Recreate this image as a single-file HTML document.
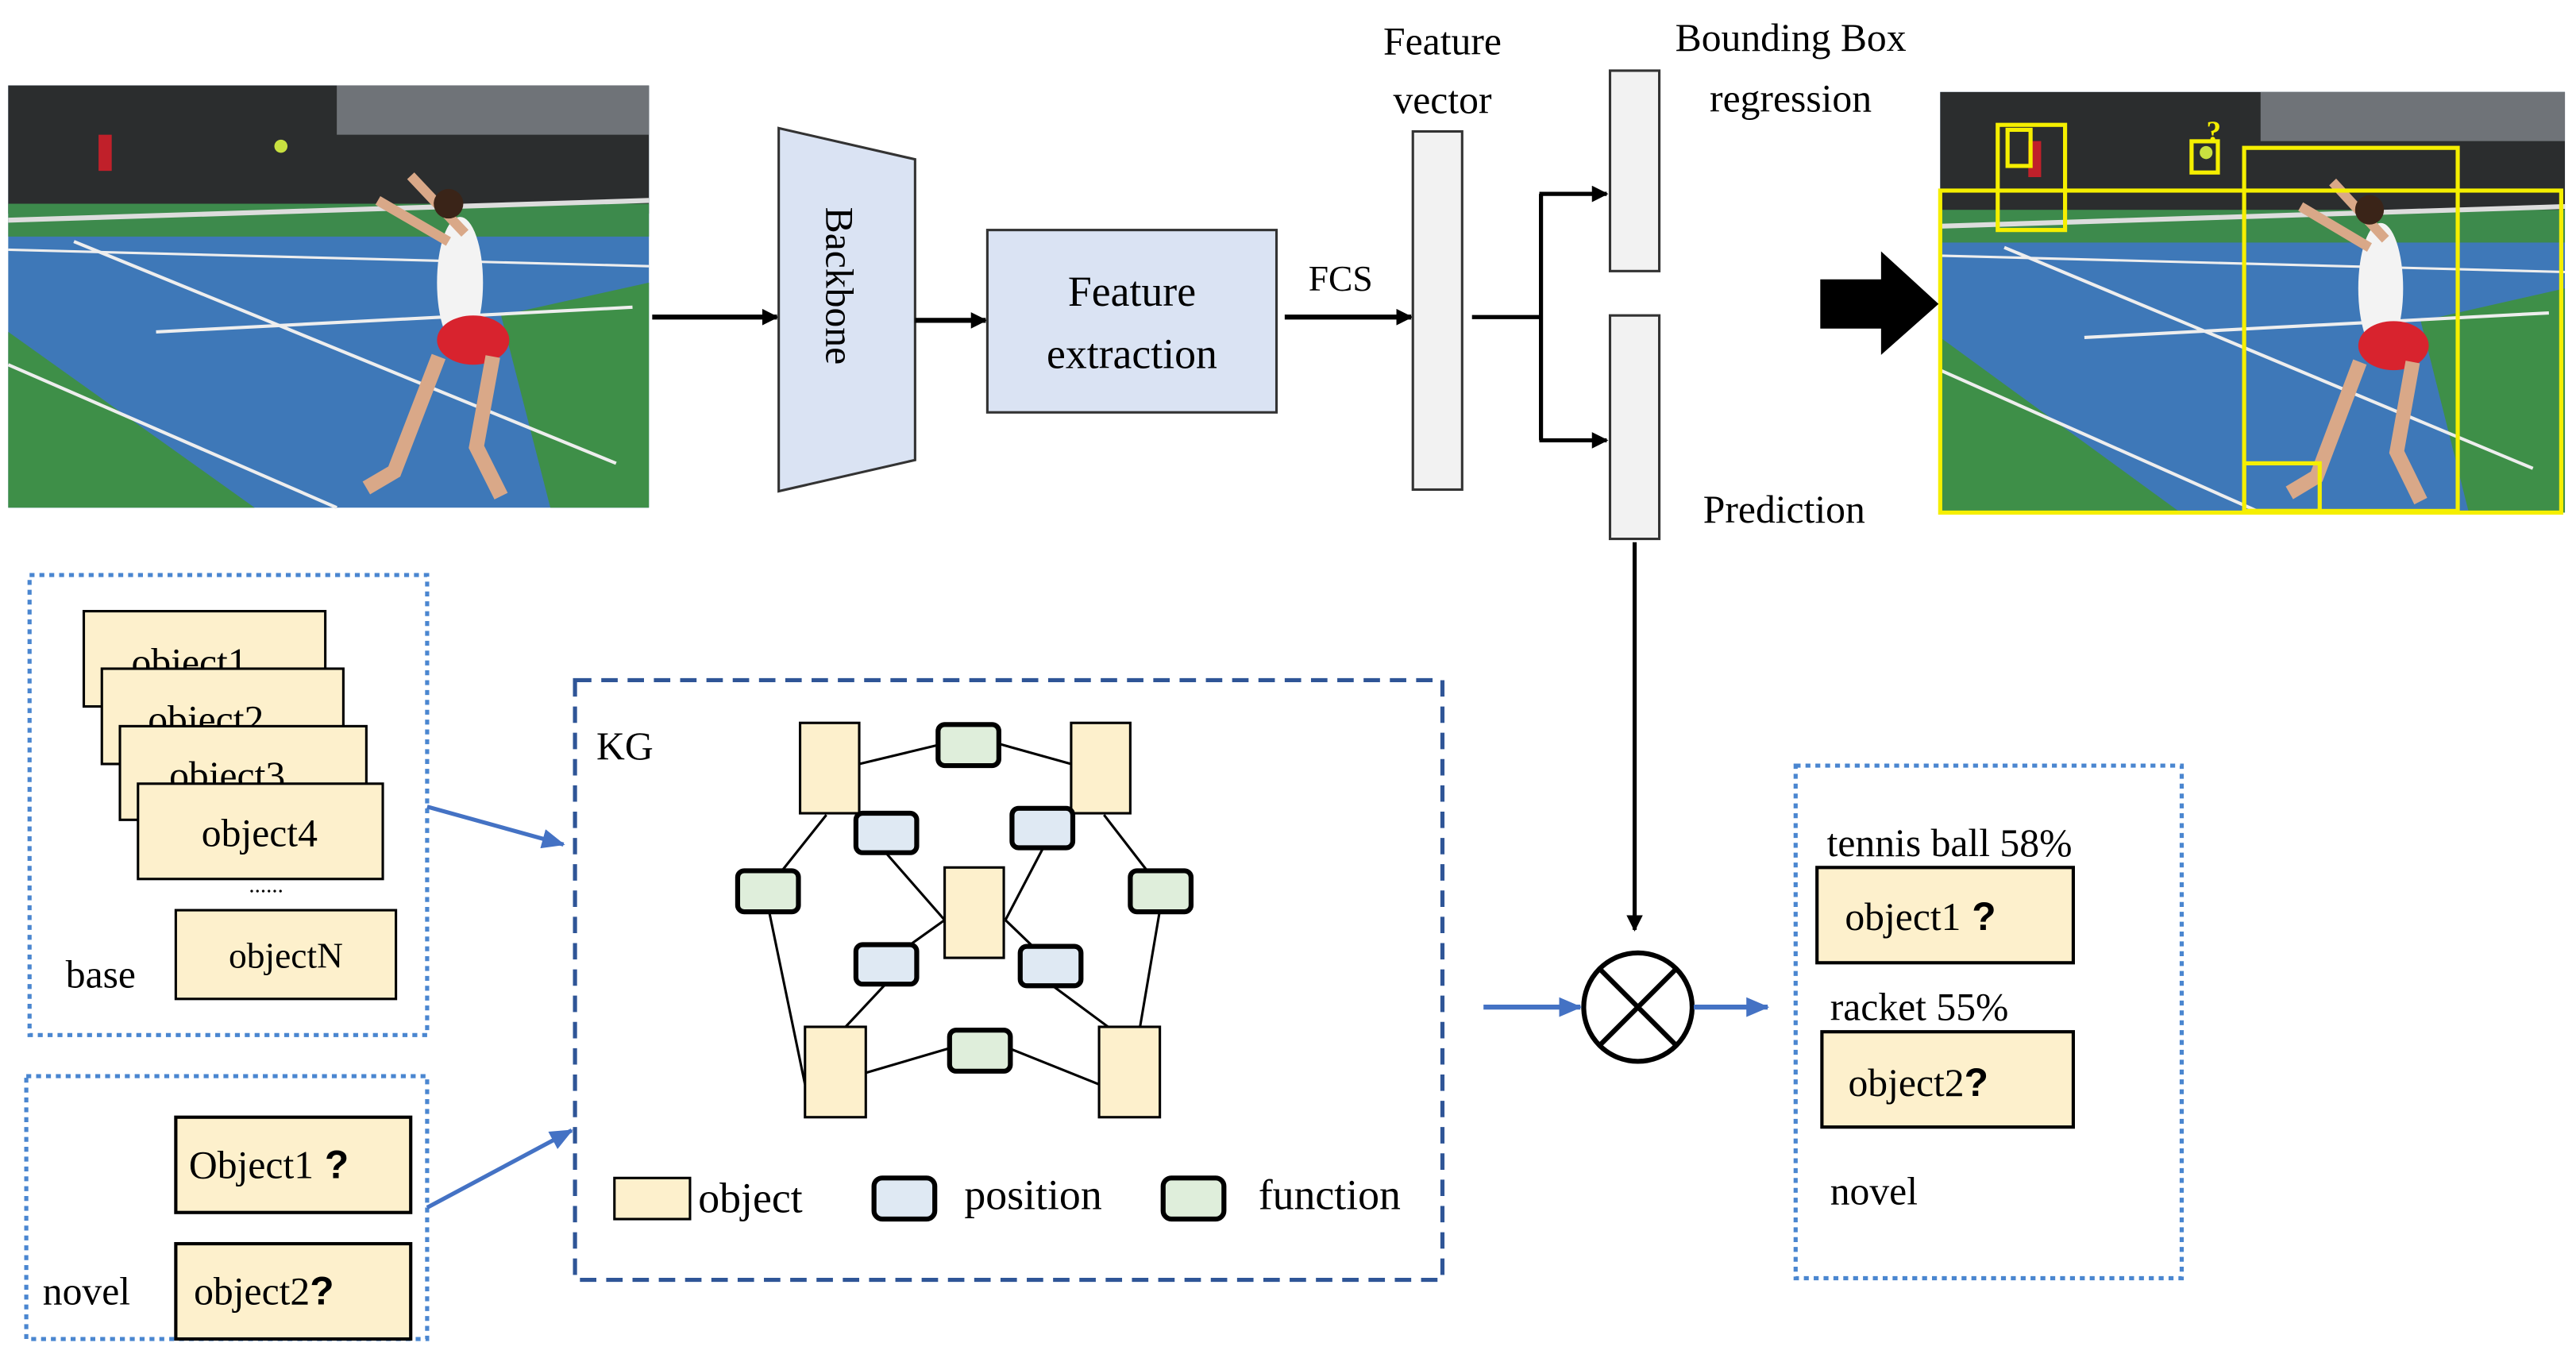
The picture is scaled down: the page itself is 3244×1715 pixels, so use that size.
<!DOCTYPE html>
<html><head><meta charset="utf-8"><style>
html,body{margin:0;padding:0;background:#fff}
svg{display:block}
text{font-family:"Liberation Serif",serif;fill:#000}
</style></head><body>
<svg width="3244" height="1715" viewBox="0 0 1568 829" preserveAspectRatio="none" xmlns="http://www.w3.org/2000/svg">
<defs>
<marker id="ah" markerWidth="10" markerHeight="10" refX="9" refY="5" orient="auto" markerUnits="userSpaceOnUse"><path d="M0,0 L10,5 L0,10 Z" fill="#000"/></marker>
<marker id="bh" markerWidth="14" markerHeight="12" refX="13" refY="6" orient="auto" markerUnits="userSpaceOnUse"><path d="M0,0 L14,6 L0,12 Z" fill="#4472c4"/></marker>
<g id="photo">
<rect x="0" y="0" width="390" height="257" fill="#3e78b8"/>
<rect x="0" y="0" width="390" height="78" fill="#2b2d2e"/>
<rect x="200" y="0" width="190" height="30" fill="#6f7378"/>
<rect x="0" y="72" width="390" height="20" fill="#3d8a4c"/>
<polygon points="0,150 0,257 150,257" fill="#3e8f48"/>
<polygon points="300,140 390,120 390,257 330,257" fill="#3e8f48"/>
<line x1="0" y1="82" x2="390" y2="70" stroke="#ddd" stroke-width="3"/>
<line x1="40" y1="95" x2="370" y2="230" stroke="#eee" stroke-width="2"/>
<line x1="90" y1="150" x2="380" y2="135" stroke="#eee" stroke-width="2"/>
<line x1="0" y1="170" x2="200" y2="257" stroke="#eee" stroke-width="2"/>
<line x1="0" y1="100" x2="390" y2="110" stroke="#eee" stroke-width="1.5"/>
<ellipse cx="275" cy="120" rx="14" ry="40" fill="#f3f3f3"/>
<ellipse cx="283" cy="155" rx="22" ry="15" fill="#d8232e"/>
<path d="M262,165 L235,235 L218,245 M295,165 L285,220 L300,250" stroke="#d9a888" stroke-width="9" fill="none"/>
<path d="M268,95 L225,70 M278,90 L245,55" stroke="#d9a888" stroke-width="6" fill="none"/>
<circle cx="268" cy="72" r="9" fill="#3a2418"/>
<circle cx="166" cy="37" r="4" fill="#c8e040"/>
<rect x="55" y="30" width="8" height="22" fill="#c0202a"/>
</g>
</defs>

<g transform="translate(5,52)"><use href="#photo"/></g>
<g transform="translate(1181,56) scale(0.975,0.996)"><use href="#photo"/></g>
<g fill="none" stroke="#f5ef00" stroke-width="2.5">
<rect x="1181" y="116" width="378" height="196"/>
<rect x="1366" y="90" width="130" height="221"/>
<rect x="1216" y="76" width="41" height="64"/>
<rect x="1222" y="79" width="14" height="22"/>
<rect x="1334" y="86" width="16" height="19"/>
<rect x="1366" y="282" width="46" height="29"/>
</g>
<text x="1343" y="86" font-size="18" style="fill:#f5ef00;font-weight:bold">?</text>

<line x1="397" y1="193" x2="473" y2="193" stroke="#000" stroke-width="3" marker-end="url(#ah)"/>
<polygon points="474,78 557,97 557,280 474,299" fill="#dae3f3" stroke="#333" stroke-width="1.5"/>
<text x="0" y="0" font-size="24" transform="translate(503,126) rotate(90)">Backbone</text>
<line x1="557" y1="195" x2="600" y2="195" stroke="#000" stroke-width="3" marker-end="url(#ah)"/>
<rect x="601" y="140" width="176" height="111" fill="#dae3f3" stroke="#333" stroke-width="1.5"/>
<text x="689" y="186" font-size="26" text-anchor="middle">Feature</text>
<text x="689" y="224" font-size="26" text-anchor="middle">extraction</text>
<line x1="782" y1="193" x2="859" y2="193" stroke="#000" stroke-width="3" marker-end="url(#ah)"/>
<text x="816" y="177" font-size="22" text-anchor="middle">FCS</text>
<rect x="860" y="80" width="30" height="218" fill="#f2f2f2" stroke="#333" stroke-width="1.5"/>
<text x="878" y="33" font-size="24" text-anchor="middle">Feature</text>
<text x="878" y="69" font-size="24" text-anchor="middle">vector</text>
<line x1="896" y1="193" x2="938" y2="193" stroke="#000" stroke-width="2.5"/>
<path d="M938,118 L938,268" stroke="#000" stroke-width="2.5" fill="none"/>
<line x1="937" y1="118" x2="978" y2="118" stroke="#000" stroke-width="2.5" marker-end="url(#ah)"/>
<line x1="937" y1="268" x2="978" y2="268" stroke="#000" stroke-width="2.5" marker-end="url(#ah)"/>
<rect x="980" y="43" width="30" height="122" fill="#f2f2f2" stroke="#333" stroke-width="1.5"/>
<rect x="980" y="192" width="30" height="136" fill="#f2f2f2" stroke="#333" stroke-width="1.5"/>
<text x="1090" y="31" font-size="24" text-anchor="middle">Bounding Box</text>
<text x="1090" y="68" font-size="24" text-anchor="middle">regression</text>
<text x="1086" y="318" font-size="24" text-anchor="middle">Prediction</text>
<polygon points="1108,170 1145,170 1145,153 1180,185 1145,216 1145,200 1108,200" fill="#000"/>

<line x1="995" y1="330" x2="995" y2="566" stroke="#000" stroke-width="2.5" marker-end="url(#ah)"/>
<circle cx="997" cy="613" r="33" fill="#fff" stroke="#000" stroke-width="3"/>
<line x1="974" y1="590" x2="1020" y2="636" stroke="#000" stroke-width="3"/>
<line x1="1020" y1="590" x2="974" y2="636" stroke="#000" stroke-width="3"/>
<line x1="903" y1="613" x2="962" y2="613" stroke="#4472c4" stroke-width="3" marker-end="url(#bh)"/>
<line x1="1031" y1="613" x2="1076" y2="613" stroke="#4472c4" stroke-width="3" marker-end="url(#bh)"/>

<rect x="18" y="350" width="242" height="280" fill="none" stroke="#4a86d0" stroke-width="2.5" stroke-dasharray="3,3"/>
<rect x="51" y="372" width="147" height="58" fill="#fdf0cc" stroke="#000" stroke-width="1.5"/>
<text x="80" y="411" font-size="24">object1</text>
<rect x="62" y="407" width="147" height="58" fill="#fdf0cc" stroke="#000" stroke-width="1.5"/>
<text x="90" y="446" font-size="24">object2</text>
<rect x="73" y="442" width="150" height="57" fill="#fdf0cc" stroke="#000" stroke-width="1.5"/>
<text x="103" y="480" font-size="24">object3</text>
<rect x="84" y="477" width="149" height="58" fill="#fdf0cc" stroke="#000" stroke-width="1.5"/>
<text x="158" y="515" font-size="24" text-anchor="middle">object4</text>
<text x="162" y="543" font-size="14" text-anchor="middle">......</text>
<rect x="107" y="554" width="134" height="54" fill="#fdf0cc" stroke="#000" stroke-width="1.5"/>
<text x="174" y="589" font-size="22" text-anchor="middle">objectN</text>
<text x="40" y="601" font-size="24">base</text>

<rect x="16" y="655" width="244" height="160" fill="none" stroke="#4a86d0" stroke-width="2.5" stroke-dasharray="3,3"/>
<rect x="107" y="680" width="143" height="58" fill="#fdf0cc" stroke="#000" stroke-width="2"/>
<rect x="107" y="757" width="143" height="58" fill="#fdf0cc" stroke="#000" stroke-width="2"/>
<text x="115" y="717" font-size="24">Object1<tspan font-family="Liberation Sans" font-weight="bold"> ?</tspan></text>
<text x="118" y="794" font-size="24">object2<tspan font-family="Liberation Sans" font-weight="bold">?</tspan></text>
<text x="26" y="794" font-size="24">novel</text>

<line x1="260" y1="491" x2="343" y2="514" stroke="#4472c4" stroke-width="2.5" marker-end="url(#bh)"/>
<line x1="260" y1="735" x2="348" y2="688" stroke="#4472c4" stroke-width="2.5" marker-end="url(#bh)"/>

<rect x="350" y="414" width="528" height="365" fill="none" stroke="#2f5597" stroke-width="2.5" stroke-dasharray="10,6"/>
<text x="363" y="462" font-size="24">KG</text>
<g stroke="#000" stroke-width="1.5" fill="none">
<line x1="523" y1="465" x2="573" y2="453"/>
<line x1="609" y1="453" x2="652" y2="465"/>
<line x1="503" y1="496" x2="468" y2="540"/>
<line x1="672" y1="496" x2="706" y2="540"/>
<line x1="540" y1="520" x2="575" y2="560"/>
<line x1="635" y1="516" x2="612" y2="560"/>
<line x1="575" y1="560" x2="540" y2="585"/>
<line x1="612" y1="560" x2="638" y2="585"/>
<line x1="468" y1="554" x2="490" y2="660"/>
<line x1="706" y1="554" x2="688" y2="660"/>
<line x1="540" y1="598" x2="510" y2="630"/>
<line x1="638" y1="598" x2="688" y2="635"/>
<line x1="527" y1="653" x2="578" y2="638"/>
<line x1="614" y1="638" x2="669" y2="660"/>
</g>
<g stroke="#000" stroke-width="1.5" fill="#fdf0cc">
<rect x="487" y="440" width="36" height="55"/>
<rect x="652" y="440" width="36" height="55"/>
<rect x="575" y="528" width="36" height="55"/>
<rect x="490" y="625" width="37" height="55"/>
<rect x="669" y="625" width="37" height="55"/>
<rect x="374" y="717" width="46" height="25"/>
</g>
<g stroke="#000" stroke-width="3" fill="#dfe9f3">
<rect x="521" y="495" width="37" height="24" rx="4"/>
<rect x="616" y="492" width="37" height="24" rx="4"/>
<rect x="521" y="575" width="37" height="24" rx="4"/>
<rect x="621" y="576" width="37" height="24" rx="4"/>
<rect x="532" y="717" width="37" height="25" rx="5"/>
</g>
<g stroke="#000" stroke-width="3" fill="#dfeedb">
<rect x="571" y="441" width="37" height="25" rx="4"/>
<rect x="449" y="530" width="37" height="25" rx="4"/>
<rect x="688" y="530" width="37" height="25" rx="4"/>
<rect x="578" y="627" width="37" height="25" rx="4"/>
<rect x="708" y="717" width="37" height="25" rx="5"/>
</g>
<text x="425" y="738" font-size="26">object</text>
<text x="587" y="736" font-size="26">position</text>
<text x="766" y="736" font-size="26">function</text>

<rect x="1093" y="466" width="235" height="312" fill="none" stroke="#4a86d0" stroke-width="2.5" stroke-dasharray="3,3"/>
<text x="1112" y="521" font-size="24">tennis ball 58%</text>
<rect x="1106" y="528" width="156" height="58" fill="#fdf0cc" stroke="#000" stroke-width="2"/>
<text x="1123" y="566" font-size="24">object1<tspan font-family="Liberation Sans" font-weight="bold"> ?</tspan></text>
<text x="1114" y="621" font-size="24">racket 55%</text>
<rect x="1109" y="628" width="153" height="58" fill="#fdf0cc" stroke="#000" stroke-width="2"/>
<text x="1125" y="667" font-size="24">object2<tspan font-family="Liberation Sans" font-weight="bold">?</tspan></text>
<text x="1114" y="733" font-size="24">novel</text>
</svg>
</body></html>
